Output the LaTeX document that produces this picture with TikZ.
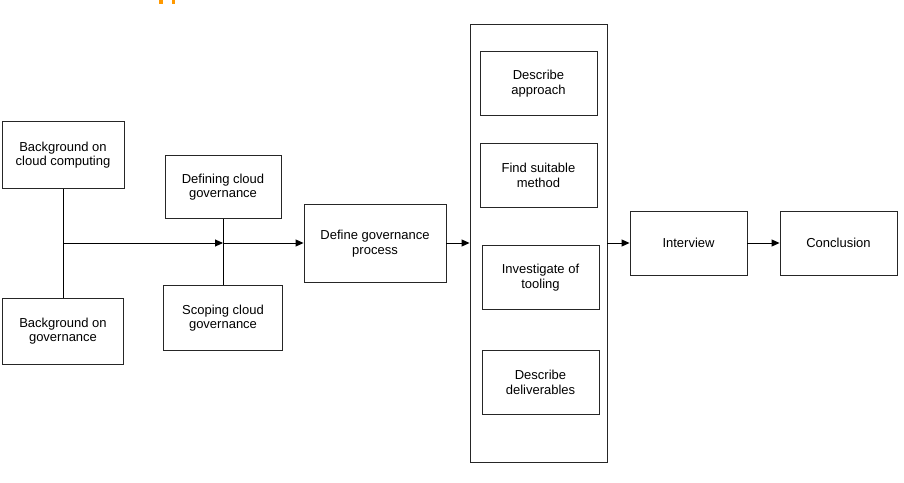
\documentclass[tikz,border=0pt]{standalone}
\usepackage{fontspec}
\setmainfont{Liberation Sans}
\usetikzlibrary{arrows.meta}
\begin{document}
\begin{tikzpicture}[x=1pt, y=-1pt,
    box/.style={draw=black!85, line width=0.9pt, align=center, inner sep=0pt,
        font=\fontsize{13}{14.5}\selectfont},
    arr/.style={-{Triangle[length=8pt,width=7pt]}, line width=0.9pt}]
            \useasboundingbox (0,0) rectangle (904,482);
            % cut-off marks at the top edge
            \fill[orange!80!yellow] (159,0) rectangle (163,4);
            \fill[orange!80!yellow] (172,0) rectangle (175,4);
            % left part
            \node[box, minimum width=122pt, minimum height=67pt] (bgcloud) at (63,155) {Background on\\cloud computing};
            \node[box, minimum width=121pt, minimum height=66pt] (bggov) at (63,331) {Background on\\governance};
            \node[box, minimum width=116pt, minimum height=63pt] (defcloud) at (223,187) {Defining cloud\\governance};
            \node[box, minimum width=119pt, minimum height=65pt] (scopecloud) at (223,318) {Scoping cloud\\governance};
            \node[box, minimum width=142pt, minimum height=78pt] (defproc) at (375,243.5) {Define governance\\process};
            % container with the method steps
            \node[box, minimum width=137pt, minimum height=438pt] (method) at (538.5,243) {};
            \node[box, minimum width=117pt, minimum height=64pt] (approach) at (538.5,83.5) {Describe\\approach};
            \node[box, minimum width=117pt, minimum height=64pt] (suitable) at (538.5,175.5) {Find suitable\\method};
            \node[box, minimum width=117pt, minimum height=64pt] (tooling) at (540.5,277.5) {Investigate of\\tooling};
            \node[box, minimum width=117pt, minimum height=64pt] (deliver) at (540.5,382.5) {Describe\\deliverables};
            % right part
            \node[box, minimum width=117pt, minimum height=64pt] (interview) at (688.5,243) {Interview};
            \node[box, minimum width=117pt, minimum height=64pt] (conclusion) at (838.5,243) {Conclusion};
            % connectors
            \coordinate (jn) at (63,243);
            \draw[line width=0.9pt] (bgcloud) -- (bggov);
            \draw[line width=0.9pt] (defcloud) -- (scopecloud);
            \draw[arr] (jn) -- (defcloud.south |- jn);
            \draw[arr] (defcloud.south |- jn) -- (defproc.west |- jn);
            \draw[arr] (defproc.east |- jn) -- (method.west |- jn);
            \draw[arr] (method.east |- jn) -- (interview.west);
            \draw[arr] (interview.east) -- (conclusion.west);
        \end{tikzpicture}
\end{document}
